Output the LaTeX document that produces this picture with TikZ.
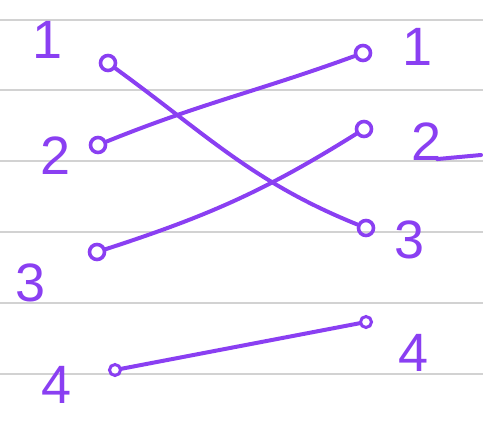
\documentclass[tikz,border=0pt]{standalone}
\usepackage{fontspec}
\setmainfont{Liberation Sans}
\usetikzlibrary{positioning}
\definecolor{cInk}{HTML}{8A3FF2}
\definecolor{cRule}{HTML}{D2D2D2}

\begin{document}
\begin{tikzpicture}[
  x=1pt, y=-1pt,
  ruleline/.style={draw=cRule, line width=1.8pt},
  pin/.style={circle, draw=cInk, line width=3.6pt, minimum size=15pt, inner sep=0pt},
  smallpin/.style={pin, minimum size=11pt, line width=3pt},
  lbl/.style={text=cInk, font=\fontsize{54}{54}\selectfont, inner sep=0pt},
  link/.style={draw=cInk, line width=4pt, line cap=round},
]
\useasboundingbox (0,0) rectangle (483,421);

% ruled paper
\foreach \y in {20, 90, 161, 232, 303, 374}
  \draw[ruleline] (0,\y) -- (483,\y);

% =========================== left column ===========================
\node[pin] (l1) at (108,63) {};
\node[pin] (l2) at (98,145) {};
\node[pin] (l3) at (97,252) {};
\node[smallpin] (l4) at (115,370) {};

\node[lbl] (la1) at (48,40)  {1};
\node[lbl] (la2) at (56,156) {2};
\node[lbl] (la3) at (31,283) {3};
\node[lbl] (la4) at (57,385) {4};

% =========================== right column ===========================
\node[pin] (r1) at (363,53) {};
\node[pin] (r2) at (364,129) {};
\node[pin] (r3) at (366,228) {};
\node[smallpin] (r4) at (366,322) {};

\node[lbl] (ra1) at (418,47)  {1};
\node[lbl] (ra2) at (427,142) {2};
\node[lbl] (ra3) at (410,240) {3};
\node[lbl] (ra4) at (414,353) {4};
\draw[link] ([xshift=-5pt, yshift=2pt]ra2.south east) -- (481,155);

% matching
\draw[link] (l1) to[out=-36, in=158] (r3);
\draw[link] (l2) to[out=22, in=-160] (r1);
\draw[link] (l3) to[out=18, in=-148] (r2);
\draw[link] (l4) -- (r4);

\end{tikzpicture}
\end{document}
